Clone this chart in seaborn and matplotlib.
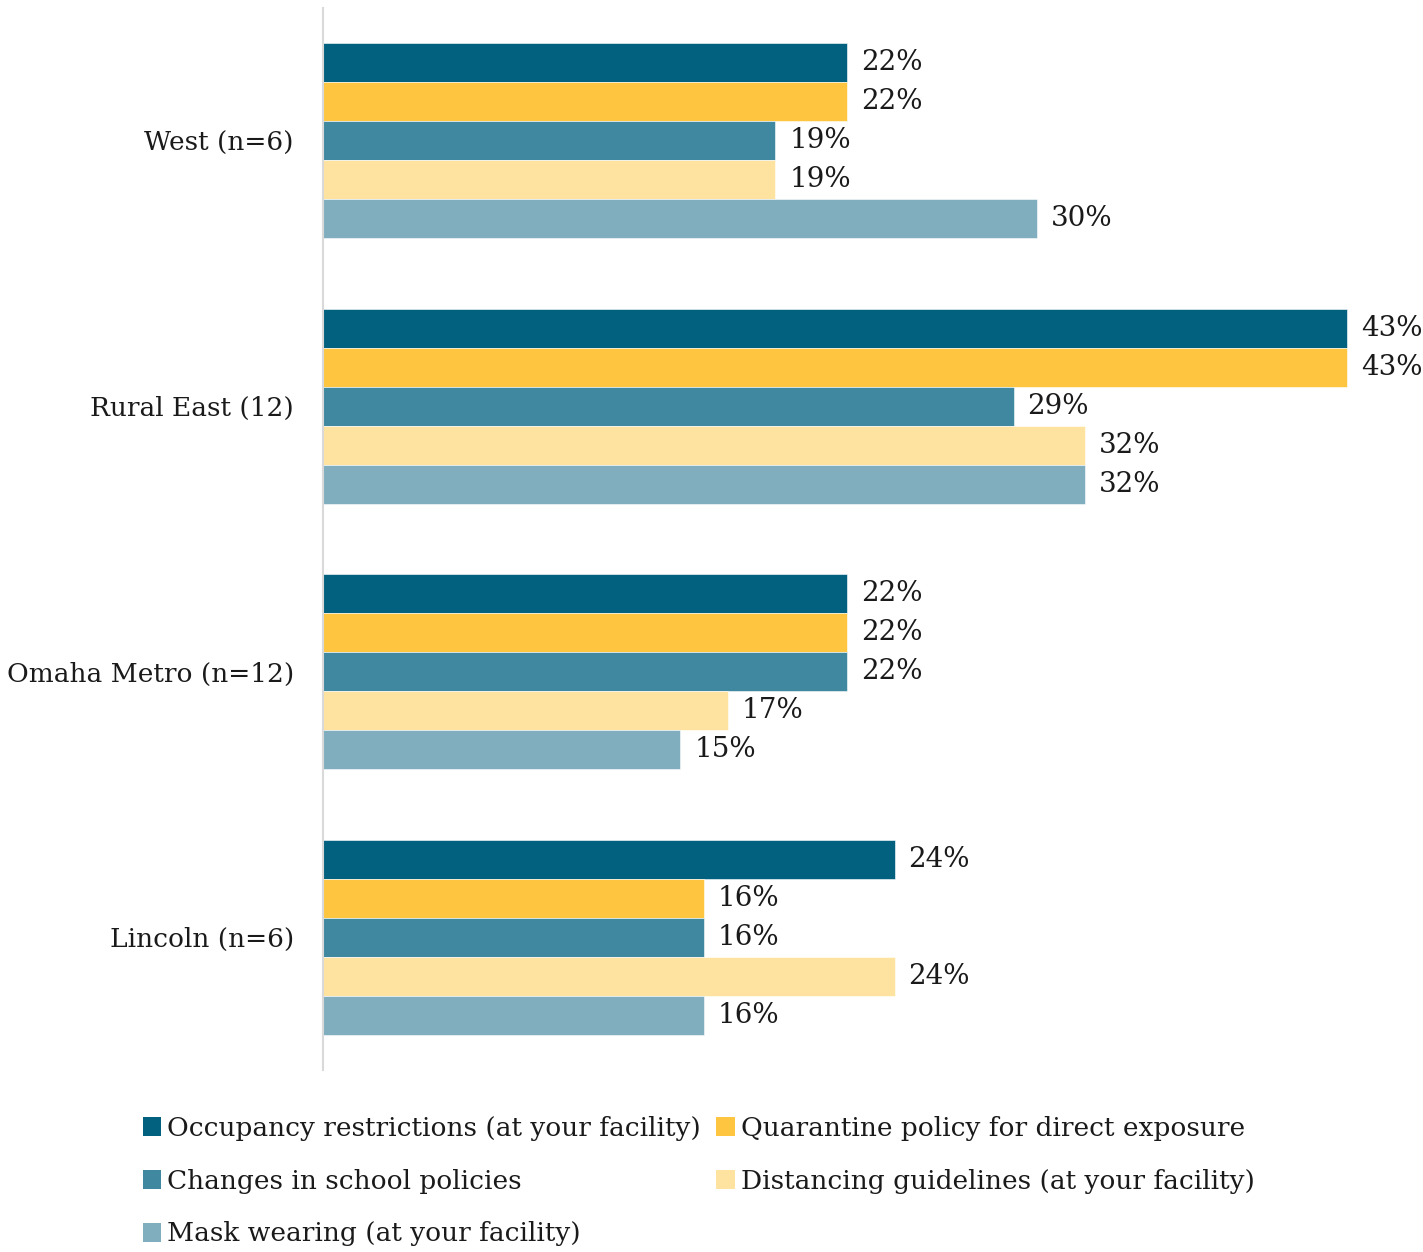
import matplotlib
matplotlib.use("Agg")
import matplotlib.pyplot as plt
from matplotlib.patches import Patch
import seaborn as sns
import pandas as pd

regions = ["West (n=6)", "Rural East (12)", "Omaha Metro (n=12)", "Lincoln (n=6)"]
measures = [
    "Occupancy restrictions (at your facility)",
    "Quarantine policy for direct exposure",
    "Changes in school policies",
    "Distancing guidelines (at your facility)",
    "Mask wearing (at your facility)",
]
occupancy = [22, 43, 22, 24]
quarantine = [22, 43, 22, 16]
school = [19, 29, 22, 16]
distancing = [19, 32, 17, 24]
masks = [30, 32, 15, 16]
colors = ["#02617E", "#FEC640", "#3F889F", "#FEE29F", "#80AEBE"]

series = [occupancy, quarantine, school, distancing, masks]
df = pd.DataFrame(
    [(r, m, vals[i]) for m, vals in zip(measures, series) for i, r in enumerate(regions)],
    columns=["region", "measure", "pct"],
)

sns.set_theme(style="white")
plt.rcParams["font.family"] = ["DejaVu Serif"]
FS = 19

fig = plt.figure(figsize=(14.23, 12.52), dpi=100)
ax = fig.add_axes([323 / 1423, 1 - 1070 / 1252, 1071.6 / 1423, 1062 / 1252])

sns.barplot(
    data=df, y="region", x="pct", hue="measure", order=regions, hue_order=measures,
    palette=colors, orient="h", width=0.733, saturation=1, errorbar=None,
    edgecolor="white", linewidth=0.4, legend=False, ax=ax,
)

for cont in ax.containers:
    ax.bar_label(cont, labels=[f"{v:.0f}%" for v in cont.datavalues],
                 padding=10, fontsize=20, color="#1a1a1a")

ax.set_xlim(0, 45)
ax.set_ylim(3.5, -0.5)
ax.set_xlabel("")
ax.set_ylabel("")
ax.set_xticks([])
ax.tick_params(axis="y", length=0, pad=21, labelsize=FS, labelcolor="#1a1a1a")
for side in ["top", "right", "bottom"]:
    ax.spines[side].set_visible(False)
ax.spines["left"].set_color("#d9d9d9")
ax.spines["left"].set_linewidth(1.5)

handles = [Patch(facecolor=c, edgecolor="none") for c in colors]
order = [0, 2, 4, 1, 3]
fig.legend(
    [handles[i] for i in order], [measures[i] for i in order],
    ncol=2, loc="upper left", bbox_to_anchor=(132 / 1423, 1 - 1105 / 1252),
    frameon=False, fontsize=FS, handlelength=0.7, handleheight=0.7,
    handletextpad=0.22, columnspacing=0.6, labelspacing=1.06, borderaxespad=0,
    labelcolor="#1a1a1a",
)

fig.savefig("out.png", dpi=100)
